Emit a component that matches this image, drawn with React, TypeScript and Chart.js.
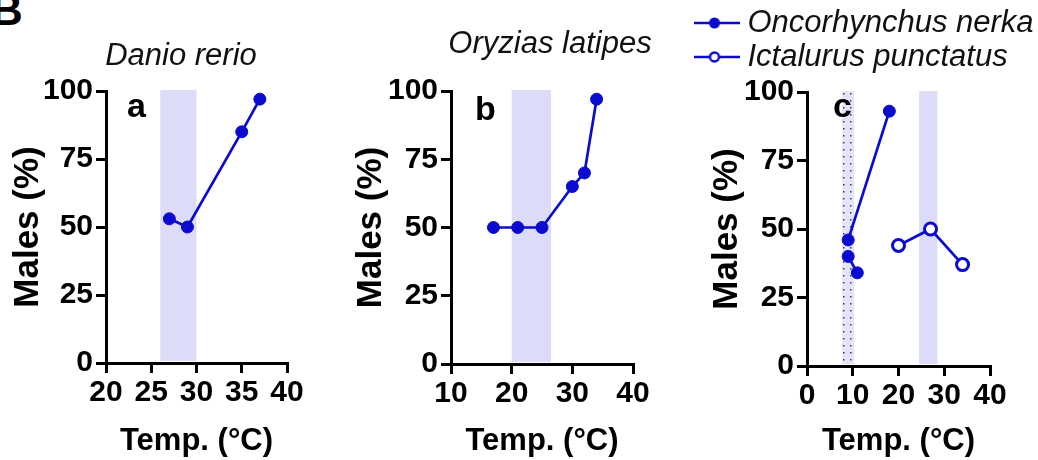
import React, { useEffect, useRef } from 'react';
import { Chart, registerables } from 'chart.js';

Chart.register(...registerables);

// ---------- data ----------
const yTicks = [0, 25, 50, 75, 100];

const danioTemp = [27, 29, 35, 37];
const danioMales = [53, 50, 85, 97];
const danioBand = [26, 30];
const danioXTicks = [20, 25, 30, 35, 40];

const oryziasTemp = [17, 21, 25, 30, 32, 34];
const oryziasMales = [50, 50, 50, 65, 70, 97];
const oryziasBand = [20, 26.5];
const oryziasXTicks = [10, 20, 30, 40];

const nerkaTemp = [9, 11, 9, 18];
const nerkaMales = [40, 34, 46, 93];
const nerkaGroup = [1, 1, 2, 2];
const nerkaBand = [7.7, 10.3];

const ictalurusTemp = [20, 27, 34];
const ictalurusMales = [44, 50, 37];
const ictalurusBand = [24.5, 28.5];
const cXTicks = [0, 10, 20, 30, 40];

// ---------- styles ----------
const BLUE = '#0b0bd0';
const BAND = '#dcdcf8';
const FONT = "'Liberation Sans', Arial, sans-serif";
const H = 460;

Chart.defaults.font.family = FONT;

const pts = (xs: number[], ys: number[]) => xs.map((x, i) => ({ x, y: ys[i] }));

let dotPattern: CanvasPattern | null = null;
function getDotPattern(ctx: CanvasRenderingContext2D) {
  if (dotPattern) return dotPattern;
  const c = document.createElement('canvas');
  c.width = 7;
  c.height = 7;
  const g = c.getContext('2d')!;
  g.fillStyle = '#e4e4f8';
  g.fillRect(0, 0, 7, 7);
  g.fillStyle = '#3a3a60';
  g.fillRect(2, 2, 1.5, 1.5);
  dotPattern = ctx.createPattern(c, 'repeat');
  return dotPattern!;
}

const bandPlugin = {
  id: 'bands',
  beforeDraw(chart: any, _a: any, opts: any) {
    const { ctx, chartArea, scales } = chart;
    for (const b of opts.bands || []) {
      const x0 = scales.x.getPixelForValue(b.range[0]);
      const x1 = scales.x.getPixelForValue(b.range[1]);
      ctx.save();
      ctx.fillStyle = b.dotted ? getDotPattern(ctx) : BAND;
      ctx.fillRect(x0, chartArea.top - 1, x1 - x0, chartArea.bottom - chartArea.top - 1);
      ctx.restore();
    }
  },
};

const letterPlugin = {
  id: 'panelLetter',
  afterDatasetsDraw(chart: any, _a: any, opts: any) {
    if (!opts.text) return;
    const { ctx, chartArea } = chart;
    ctx.save();
    ctx.font = `bold 34px ${FONT}`;
    ctx.fillStyle = '#000';
    ctx.textBaseline = 'alphabetic';
    ctx.textAlign = 'left';
    ctx.fillText(opts.text, chartArea.left + opts.dx, chartArea.top + opts.dy);
    ctx.restore();
  },
};

function legendIcon(hollow: boolean) {
  const c = document.createElement('canvas');
  c.width = 50;
  c.height = 14;
  const g = c.getContext('2d')!;
  g.strokeStyle = BLUE;
  g.lineWidth = 2.5;
  g.beginPath();
  g.moveTo(0, 7);
  g.lineTo(50, 7);
  g.stroke();
  g.beginPath();
  g.arc(25, 7, hollow ? 4.5 : 5.5, 0, Math.PI * 2);
  if (hollow) {
    g.fillStyle = '#fff';
    g.fill();
    g.lineWidth = 2.4;
    g.stroke();
  } else {
    g.fillStyle = BLUE;
    g.fill();
  }
  return c;
}

const tickFont = { size: 30, weight: 'bold' as const };

interface PanelGeom {
  width: number;
  left: number; // chart area left (canvas coords)
  right: number;
  top: number;
  bottom: number;
  yTitlePad: number;
}

function axes(g: PanelGeom, xMin: number, xMax: number, xTicks: number[]) {
  const grid = { drawOnChartArea: false, drawTicks: true, tickLength: 10, color: '#000', lineWidth: 3 };
  const border = { display: true, color: '#000', width: 3 };
  return {
    x: {
      type: 'linear',
      min: xMin,
      max: xMax,
      afterBuildTicks: (s: any) => {
        s.ticks = xTicks.map((v) => ({ value: v }));
      },
      afterFit: (s: any) => {
        s.height = H - g.bottom;
        s.paddingRight = g.width - g.right;
      },
      grid,
      border,
      ticks: { font: tickFont, color: '#000', padding: 2, maxRotation: 0, autoSkip: false },
      title: {
        display: true,
        text: 'Temp. (°C)',
        font: { size: 31, weight: 'bold' },
        color: '#000',
        padding: { top: 0, bottom: 0 },
      },
    },
    y: {
      type: 'linear',
      min: 0,
      max: 100,
      afterBuildTicks: (s: any) => {
        s.ticks = yTicks.map((v) => ({ value: v }));
      },
      afterFit: (s: any) => {
        s.width = g.left;
        s.paddingTop = g.top;
      },
      grid,
      border,
      ticks: { font: tickFont, color: '#000', padding: 3 },
      title: {
        display: true,
        text: 'Males (%)',
        font: { size: 35, weight: 'bold' },
        color: '#000',
        padding: { top: g.yTitlePad, bottom: 0 },
      },
    },
  };
}

const filledStyle = {
  borderColor: BLUE,
  backgroundColor: BLUE,
  borderWidth: 2.7,
  pointRadius: 6,
  pointHoverRadius: 6,
  pointBorderWidth: 1,
  pointBackgroundColor: BLUE,
  pointBorderColor: BLUE,
  tension: 0,
};

const hollowStyle = {
  borderColor: BLUE,
  backgroundColor: '#fff',
  borderWidth: 2.7,
  pointRadius: 6,
  pointHoverRadius: 6,
  pointBorderWidth: 3,
  pointBackgroundColor: '#fff',
  pointBorderColor: BLUE,
  tension: 0,
};

const geomA: PanelGeom = { width: 362, left: 106, right: 287, top: 91, bottom: 363, yTitlePad: 7 };
const geomB: PanelGeom = { width: 420, left: 111, right: 293, top: 91, bottom: 364, yTitlePad: 10.5 };
const geomC: PanelGeom = { width: 344, left: 113, right: 296, top: 92, bottom: 366, yTitlePad: 12.5 };

function configA(): any {
  return {
    type: 'line',
    data: { datasets: [{ label: 'Danio rerio', data: pts(danioTemp, danioMales), ...filledStyle }] },
    options: {
      animation: false,
      responsive: false,
      events: [],
      scales: axes(geomA, danioXTicks[0], danioXTicks[danioXTicks.length - 1], danioXTicks),
      plugins: {
        legend: { display: false },
        tooltip: { enabled: false },
        title: {
          display: true,
          text: 'Danio rerio',
          font: { size: 31, style: 'italic', weight: 'normal' },
          color: '#111',
          padding: { top: 0, bottom: 16.4 },
        },
        bands: { bands: [{ range: danioBand }] },
        panelLetter: { text: 'a', dx: 21, dy: 26 },
      },
    },
    plugins: [bandPlugin, letterPlugin],
  };
}

function configB(): any {
  return {
    type: 'line',
    data: { datasets: [{ label: 'Oryzias latipes', data: pts(oryziasTemp, oryziasMales), ...filledStyle }] },
    options: {
      animation: false,
      responsive: false,
      events: [],
      scales: axes(geomB, oryziasXTicks[0], oryziasXTicks[oryziasXTicks.length - 1], oryziasXTicks),
      plugins: {
        legend: { display: false },
        tooltip: { enabled: false },
        title: {
          display: true,
          text: 'Oryzias latipes',
          font: { size: 31, style: 'italic', weight: 'normal' },
          color: '#111',
          padding: { top: 0, bottom: 28.4 },
        },
        bands: { bands: [{ range: oryziasBand }] },
        panelLetter: { text: 'b', dx: 24, dy: 29 },
      },
    },
    plugins: [bandPlugin, letterPlugin],
  };
}

function configC(): any {
  const icons = [legendIcon(false), legendIcon(true)];
  return {
    type: 'line',
    data: {
      datasets: [
        {
          label: 'Oncorhynchus nerka',
          data: pts(nerkaTemp, nerkaMales),
          ...filledStyle,
          segment: {
            borderColor: (ctx: any) =>
              nerkaGroup[ctx.p0DataIndex] !== nerkaGroup[ctx.p1DataIndex] ? 'rgba(0,0,0,0)' : BLUE,
          },
        },
        { label: 'Ictalurus punctatus', data: pts(ictalurusTemp, ictalurusMales), ...hollowStyle },
      ],
    },
    options: {
      animation: false,
      responsive: false,
      events: [],
      layout: { padding: { top: 4.5 } },
      scales: axes(geomC, cXTicks[0], cXTicks[cXTicks.length - 1], cXTicks),
      plugins: {
        tooltip: { enabled: false },
        // empty spacer box between the legend and the plot area
        title: {
          display: true,
          text: '',
          weight: 100,
          font: { size: 8, lineHeight: 1 },
          padding: { top: 1.5, bottom: 0 },
        },
        legend: {
          display: true,
          position: 'top',
          align: 'start',
          labels: {
            usePointStyle: true,
            pointStyleWidth: 35,
            padding: 3,
            color: '#111',
            font: { size: 31, style: 'italic', weight: 'normal' },
            generateLabels: (chart: any) =>
              Chart.defaults.plugins.legend.labels
                .generateLabels(chart)
                .map((l: any, i: number) => ({ ...l, pointStyle: icons[i] })),
          },
        },
        bands: { bands: [{ range: nerkaBand, dotted: true }, { range: ictalurusBand }] },
        panelLetter: { text: 'c', dx: 26, dy: 25 },
      },
    },
    plugins: [bandPlugin, letterPlugin],
  };
}

function ChartCanvas({ pageLeft, width, make }: { pageLeft: number; width: number; make: () => any }) {
  const ref = useRef<HTMLCanvasElement | null>(null);
  useEffect(() => {
    if (!ref.current) return;
    const chart = new Chart(ref.current, make());
    return () => chart.destroy();
  }, []);
  return (
    <canvas
      ref={ref}
      width={width}
      height={H}
      style={{ position: 'absolute', left: pageLeft, top: 0, width, height: H }}
    />
  );
}

export default function App() {
  return (
    <div
      style={{
        position: 'absolute',
        left: 0,
        top: 0,
        width: 1038,
        height: H,
        background: '#fff',
        overflow: 'hidden',
      }}
    >
      <div
        style={{
          position: 'absolute',
          left: -9,
          top: -12,
          fontFamily: FONT,
          fontWeight: 'bold',
          fontSize: 44,
          lineHeight: '44px',
          color: '#000',
        }}
      >
        B
      </div>
      <ChartCanvas pageLeft={0} width={geomA.width} make={configA} />
      <ChartCanvas pageLeft={340} width={geomB.width} make={configB} />
      <ChartCanvas pageLeft={694} width={geomC.width} make={configC} />
    </div>
  );
}
